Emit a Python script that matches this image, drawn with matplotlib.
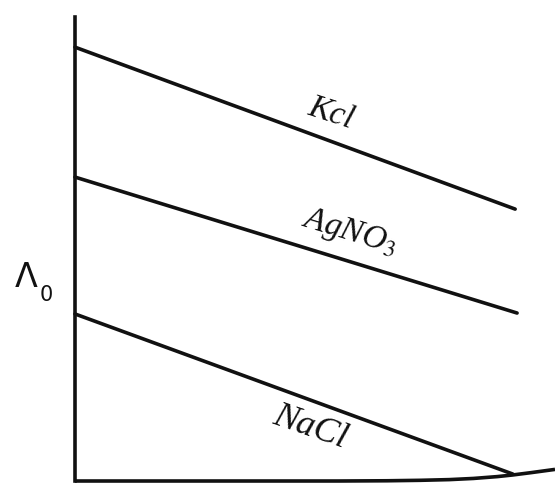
import matplotlib
matplotlib.use("Agg")
import matplotlib.pyplot as plt

plt.rcParams["mathtext.fontset"] = "stix"

# conductance vs sqrt(concentration), arbitrary units
kcl_x = [0.0, 0.917]
kcl_y = [93.5, 58.6]

agno3_x = [0.0, 0.921]
agno3_y = [65.5, 36.2]

nacl_x = [0.0, 0.912]
nacl_y = [36.0, 1.5]

# baseline (x axis) bends upward at the far end
base_x = [0.0, 0.55, 0.65, 0.72, 0.78, 0.83, 0.88, 0.912, 0.95, 1.0]
base_y = [0.0, 0.0, 0.05, 0.15, 0.3, 0.55, 0.95, 1.3, 1.8, 2.5]

LW = 2.6
INK = "#111111"

fig = plt.figure(figsize=(5.55, 4.83), dpi=100, facecolor="white")
ax = fig.add_axes([75 / 555, 2 / 483, 480 / 555, 464 / 483])
ax.set_xlim(0, 1)
ax.set_ylim(0, 100)

for sp in ("top", "right", "bottom"):
    ax.spines[sp].set_visible(False)
ax.spines["left"].set_linewidth(LW)
ax.spines["left"].set_color(INK)
ax.set_xticks([])
ax.set_yticks([])

ax.plot(base_x, base_y, color=INK, lw=LW, solid_capstyle="butt", clip_on=False)
for xs, ys in ((kcl_x, kcl_y), (agno3_x, agno3_y), (nacl_x, nacl_y)):
    ax.plot(xs, ys, color=INK, lw=LW, solid_capstyle="round", clip_on=False)

lab = dict(family="Liberation Serif", style="italic", color=INK,
           ha="center", va="center")
ax.text(0.533, 79.3, "Kcl", rotation=-18, fontsize=24, **lab)
ax.text(0.573, 53.5, "AgNO$_\\mathit{3}$", rotation=-17, fontsize=24, **lab)
ax.text(0.49, 11.6, "NaCl", rotation=-19, fontsize=26, **lab)

# axis symbol: Lambda with subscript zero
ax.text(-0.102, 43.8, "Λ", fontsize=24, color=INK, ha="center", va="center",
        clip_on=False)
ax.text(-0.060, 40.0, "0", fontsize=15, color=INK, ha="center", va="center",
        clip_on=False)

fig.savefig("out.png", dpi=100, facecolor="white")
